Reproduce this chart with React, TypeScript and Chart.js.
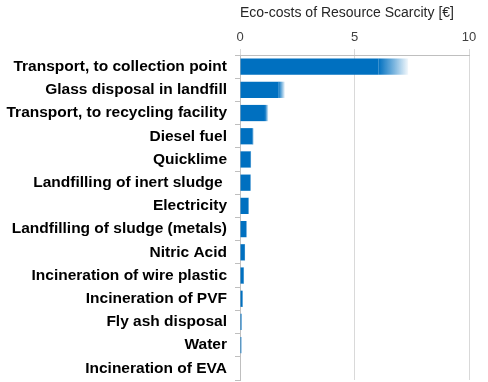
import React, { useEffect, useRef } from "react";
import { Chart, registerables } from "chart.js";

Chart.register(...registerables);

const categories = [
  "Transport, to collection point",
  "Glass disposal in landfill",
  "Transport, to recycling facility",
  "Diesel fuel",
  "Quicklime",
  "Landfilling of inert sludge ",
  "Electricity",
  "Landfilling of sludge (metals)",
  "Nitric Acid",
  "Incineration of wire plastic",
  "Incineration of PVF",
  "Fly ash disposal",
  "Water",
  "Incineration of EVA",
];

// solid part of each bar
const solidValues = [6.04, 1.67, 1.09, 0.55, 0.46, 0.44, 0.36, 0.27, 0.21, 0.15, 0.1, 0.05, 0.05, 0];
// end of the faded (uncertainty) part
const upperValues = [7.34, 1.96, 1.24, 0.6, 0.5, 0.48, 0.39, 0.3, 0.24, 0.18, 0.12, 0.07, 0.06, 0];

const xTicks = [0, 5, 10];
const axisTitle = "Eco-costs of Resource Scarcity [€]";

const BLUE = "rgba(0,112,192,1)";

export default function App() {
  const ref = useRef<HTMLCanvasElement | null>(null);

  useEffect(() => {
    if (!ref.current) return;
    const chart = new Chart(ref.current, {
      type: "bar",
      data: {
        labels: categories,
        datasets: [
          {
            label: "solid",
            data: solidValues,
            backgroundColor: BLUE,
            borderWidth: 0,
            grouped: false,
            categoryPercentage: 1,
            barPercentage: 0.7,
            order: 1,
          },
          {
            label: "fade",
            data: solidValues.map((s, i) => [s, upperValues[i]]),
            backgroundColor: (ctx: any) => {
              const c = ctx.chart;
              const sx = c.scales && c.scales.x;
              if (!sx || !c.chartArea) return BLUE;
              const i = ctx.dataIndex;
              const x0 = sx.getPixelForValue(solidValues[i]);
              const x1 = sx.getPixelForValue(upperValues[i]);
              if (!(x1 - x0 > 0.5)) return BLUE;
              const g = c.ctx.createLinearGradient(x0, 0, x1, 0);
              g.addColorStop(0, "rgba(0,112,192,1)");
              g.addColorStop(0.5, "rgba(0,112,192,0.55)");
              g.addColorStop(1, "rgba(0,112,192,0.05)");
              return g;
            },
            borderWidth: 0,
            grouped: false,
            categoryPercentage: 1,
            barPercentage: 0.7,
            order: 2,
          } as any,
        ],
      },
      options: {
        indexAxis: "y",
        responsive: false,
        animation: false,
        layout: { padding: { left: 0, right: 19, top: 0, bottom: 2 } },
        plugins: {
          legend: { display: false },
          tooltip: { enabled: false },
        },
        scales: {
          x: {
            position: "top",
            min: 0,
            max: 10,
            afterBuildTicks: (axis: any) => {
              axis.ticks = xTicks.map((v) => ({ value: v }));
            },
            afterFit: (axis: any) => {
              axis.height = 55;
              axis.paddingLeft = 0;
              axis.paddingRight = 0;
            },
            ticks: {
              color: "#404040",
              font: { family: "Liberation Sans, Arial", size: 13 },
              padding: 4,
              maxRotation: 0,
            },
            grid: {
              color: "#d9d9d9",
              tickLength: 6,
              lineWidth: 1,
            },
            border: { color: "#bfbfbf" },
            title: {
              display: true,
              text: axisTitle,
              align: "start",
              color: "#262626",
              font: { family: "Liberation Sans, Arial", size: 14 },
              padding: { top: 5, bottom: 4 },
            },
          },
          y: {
            afterFit: (axis: any) => {
              axis.width = 240;
              axis.paddingTop = 0;
              axis.paddingBottom = 0;
            },
            ticks: {
              color: "#000000",
              font: { family: "Liberation Sans, Arial", size: 15.5, weight: "bold" },
              padding: 8,
              autoSkip: false,
            },
            grid: {
              offset: true,
              drawOnChartArea: false,
              drawTicks: true,
              tickLength: 5,
              color: "#bfbfbf",
            },
            border: { color: "#bfbfbf" },
          },
        },
      },
    });
    return () => chart.destroy();
  }, []);

  return (
    <div style={{ position: "fixed", left: 0, top: 0, width: 488, height: 382, background: "#fff" }}>
      <canvas ref={ref} width={488} height={382} />
    </div>
  );
}
